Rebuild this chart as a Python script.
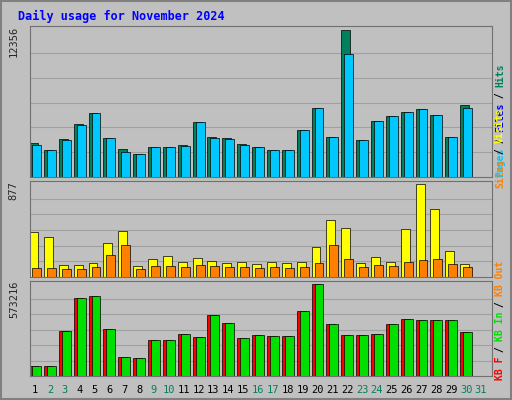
import numpy as np, pandas as pd, seaborn as sns, matplotlib
matplotlib.use("Agg")
import matplotlib.pyplot as plt

sns.set_style("white")
plt.rcParams['font.family'] = ['DejaVu Sans Mono', 'DejaVu Sans']

days = list(range(1, 32))
hits = [2780,2220,3130,4360,5270,3210,2300,1890,2470,2470,2630,4530,3290,3210,2720,2470,2220,2220,3870,5760,3290,12180,3050,4610,5020,5430,5680,5110,3290,6010]
pages = [2630,2220,3050,4280,5270,3210,2060,1890,2470,2470,2550,4530,3210,3130,2630,2470,2220,2220,3870,5760,3290,10210,3050,4610,5020,5430,5680,5110,3290,5760]
visits = [423,376,113,113,132,320,433,104,169,198,141,179,151,132,141,122,141,132,141,282,536,461,132,188,141,452,865,630,245,122]
sites = [85,85,75,75,94,207,301,75,104,104,94,113,104,94,94,85,94,85,94,132,301,169,94,113,104,141,160,169,122,94]
kbf = [61600,61600,277000,480000,493000,290000,117000,111000,222000,222000,259000,240000,376000,327000,234000,253000,247000,247000,401000,567000,320000,253000,253000,259000,320000,351000,345000,345000,345000,271000]
kbo = kbf
weekend = {2,3,9,10,16,17,23,24,30,31}

BG = "#c0c0c0"
fig = plt.figure(figsize=(5.12, 4.0), dpi=100, facecolor=BG)
fig.patches.append(plt.Rectangle((0.002,0.002),0.996,0.996,transform=fig.transFigure,fill=False,ec="#808080",lw=1.5))
fig.text(18/512, 1-16/400, "Daily usage for November 2024", color="#0000ff", fontsize=8.5, weight="bold", va="center")

n = len(hits)
d = np.array(days[:n], dtype=float)
panels = [(26,177,12356),(181,277,877),(281,376,573216)]
axes = []
for top, bot, mx in panels:
    ax = fig.add_axes([30/512, (400-bot)/400, 462/512, (bot-top)/400])
    ax.set_facecolor(BG)
    ax.set_xlim(0.66, 31.74)
    ax.set_ylim(0, mx*(bot-top)/(bot-top-2))
    for g in np.linspace(0, mx, 7)[1:-1]:
        ax.axhline(g, color="#a0a0a0", lw=0.8, zorder=0)
    ax.set_yticks([]); ax.set_xticks([])
    for s in ax.spines.values(): s.set_color("#707070")
    ax.text(-0.035, 1.0, str(mx), transform=ax.transAxes, rotation=90, ha="center", va="top", fontsize=7.5)
    axes.append(ax)

def bars(ax, x, y, c):
    sns.barplot(x=x, y=y, native_scale=True, width=0.6, color=c, edgecolor="black", linewidth=0.5, ax=ax, saturation=1, zorder=2)
    ax.set_xlim(0.66, 31.74)

bars(axes[0], d-0.1, hits, "#00805c")
bars(axes[0], d+0.1, pages, "#00c8ff")
bars(axes[1], d-0.1, visits, "#ffff00")
bars(axes[1], d+0.1, sites, "#ff8000")
bars(axes[2], d-0.1, kbf, "#ff0000")
bars(axes[2], d+0.1, kbo, "#00e000")
for ax in axes:
    ax.set_yticks([]); ax.set_xticks([]); ax.set_xlabel(""); ax.set_ylabel("")

for day in days:
    x = 30/512 + (day-0.66)/31.08*462/512
    fig.text(x, 1-390/400, str(day), ha="center", va="center", fontsize=7.5,
             color="#00805c" if day in weekend else "black")

def side(bot, parts):
    y = (400-bot)/400
    step = 5.6/400
    for p, c in parts:
        fig.text(500/512, y, p, rotation=90, color=c, fontsize=7, weight="bold", ha="center", va="bottom")
        y += step*len(p)

side(177,[("Pages","#00c8ff"),(" / ","black"),("Files","#0000ff"),(" / ","black"),("Hits","#00805c")])
side(188,[("Sites","#ff8000"),(" / ","black"),("Visits","#ffff00")])
side(380,[("KB F","#ff0000"),(" / ","black"),("KB In","#00e000"),(" / ","black"),("KB Out","#ff8000")])

fig.savefig("out.png", dpi=100, facecolor=BG)
